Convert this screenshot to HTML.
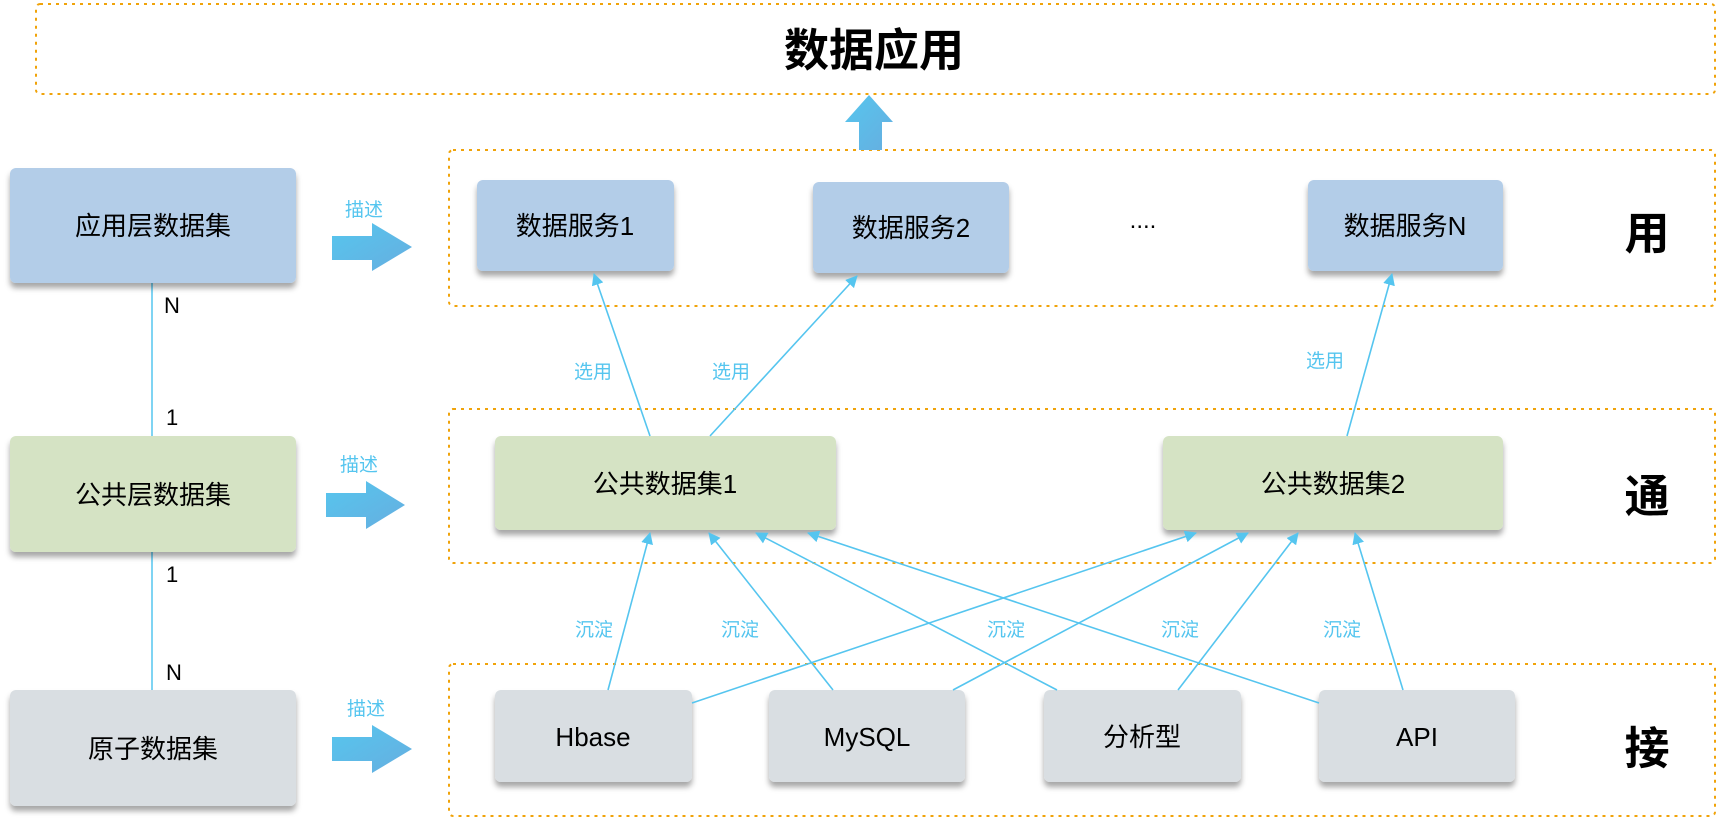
<!DOCTYPE html>
<html><head><meta charset="utf-8"><style>
html,body{margin:0;padding:0;background:#fff;}
svg{display:block;}
text{font-family:"Liberation Sans","Noto Sans CJK SC",sans-serif;}
</style></head><body>
<svg width="1718" height="822" viewBox="0 0 1718 822" xmlns="http://www.w3.org/2000/svg">
<defs>
<filter id="sh" x="-10%" y="-10%" width="120%" height="140%"><feDropShadow dx="0" dy="5" stdDeviation="3" flood-color="#000" flood-opacity="0.35"/></filter>
<marker id="ah" viewBox="0 0 12 12" refX="11" refY="6" markerWidth="12" markerHeight="12" markerUnits="userSpaceOnUse" orient="auto"><path d="M0,0 L12,6 L0,12 Z" fill="#55c5ef"/></marker>
<linearGradient id="bg" x1="0" y1="0" x2="1" y2="1"><stop offset="0" stop-color="#56c6ee"/><stop offset="1" stop-color="#66aee0"/></linearGradient>
</defs>
<g fill="none" stroke="#f0a30a" stroke-width="2" stroke-dasharray="3,5">
<rect x="36" y="4" width="1679" height="90" rx="4"/>
<rect x="449" y="150" width="1266" height="156" rx="4"/>
<rect x="449" y="409" width="1266" height="154" rx="4"/>
<rect x="449" y="664" width="1266" height="152" rx="4"/>
</g>
<text x="874" y="66" font-size="45" font-weight="bold" text-anchor="middle">数据应用</text>
<path d="M869,95 L893,122 L882,122 L882,150 L859,150 L859,122 L845,122 Z" fill="url(#bg)"/>
<!-- left column -->
<line x1="152" y1="283" x2="152" y2="436" stroke="#55c5ef" stroke-width="1.5"/>
<line x1="152" y1="552" x2="152" y2="690" stroke="#55c5ef" stroke-width="1.5"/>
<g font-size="22" fill="#000">
<text x="164" y="313">N</text><text x="166" y="425">1</text>
<text x="166" y="582">1</text><text x="166" y="680">N</text>
</g>
<g filter="url(#sh)">
<rect x="10" y="168" width="286" height="115" rx="6" fill="#b3cde8"/>
<rect x="10" y="436" width="286" height="116" rx="6" fill="#d5e3c4"/>
<rect x="10" y="690" width="286" height="116" rx="6" fill="#d9dee2"/>
<rect x="477" y="180" width="197" height="91" rx="6" fill="#b3cde8"/>
<rect x="813" y="182" width="196" height="91" rx="6" fill="#b3cde8"/>
<rect x="1308" y="180" width="195" height="91" rx="6" fill="#b3cde8"/>
<rect x="495" y="436" width="341" height="94" rx="6" fill="#d5e3c4"/>
<rect x="1163" y="436" width="340" height="94" rx="6" fill="#d5e3c4"/>
<rect x="495" y="690" width="197" height="92" rx="6" fill="#d9dee2"/>
<rect x="769" y="690" width="196" height="92" rx="6" fill="#d9dee2"/>
<rect x="1044" y="690" width="197" height="92" rx="6" fill="#d9dee2"/>
<rect x="1319" y="690" width="196" height="92" rx="6" fill="#d9dee2"/>
</g>
<g font-size="26" text-anchor="middle" fill="#000">
<text x="153" y="235">应用层数据集</text>
<text x="153" y="504">公共层数据集</text>
<text x="153" y="758">原子数据集</text>
<text x="575" y="235">数据服务1</text>
<text x="911" y="237">数据服务2</text>
<text x="1405" y="235">数据服务N</text>
<text x="665" y="493">公共数据集1</text>
<text x="1333" y="493">公共数据集2</text>
<text x="593" y="746">Hbase</text>
<text x="867" y="746">MySQL</text>
<text x="1142" y="746">分析型</text>
<text x="1417" y="746">API</text>
</g>
<text x="1143" y="228" font-size="24" text-anchor="middle">....</text>
<g font-size="45" font-weight="bold" text-anchor="middle">
<text x="1647" y="249">用</text><text x="1647" y="512">通</text><text x="1647" y="764">接</text>
</g>
<!-- describe arrows -->
<g fill="url(#bg)">
<path d="M332,236 L372,236 L372,223 L412,247 L372,271 L372,260 L332,260 Z"/>
<path d="M326,493 L366,493 L366,481 L405,505 L366,529 L366,517 L326,517 Z"/>
<path d="M332,737 L372,737 L372,725 L412,749 L372,773 L372,761 L332,761 Z"/>
</g>
<g font-size="19" fill="#55c5ef" text-anchor="middle">
<text x="364" y="216">描述</text><text x="359" y="471">描述</text><text x="366" y="715">描述</text>
<text x="593" y="378">选用</text><text x="731" y="378">选用</text><text x="1325" y="367">选用</text>
<text x="594" y="636">沉淀</text><text x="740" y="636">沉淀</text><text x="1006" y="636">沉淀</text><text x="1180" y="636">沉淀</text><text x="1342" y="636">沉淀</text>
</g>
<g stroke="#55c5ef" stroke-width="1.6" fill="none" marker-end="url(#ah)">
<line x1="650" y1="436" x2="594" y2="274"/>
<line x1="710" y1="436" x2="857" y2="276"/>
<line x1="1347" y1="436" x2="1392" y2="274"/>
<line x1="608" y1="690" x2="650" y2="533"/>
<line x1="692" y1="703" x2="1196" y2="533"/>
<line x1="833" y1="690" x2="709" y2="533"/>
<line x1="953" y1="690" x2="1248" y2="533"/>
<line x1="1057" y1="690" x2="756" y2="533"/>
<line x1="1178" y1="690" x2="1298" y2="533"/>
<line x1="1319" y1="703" x2="808" y2="533"/>
<line x1="1403" y1="690" x2="1355" y2="533"/>
</g>
</svg>
</body></html>
